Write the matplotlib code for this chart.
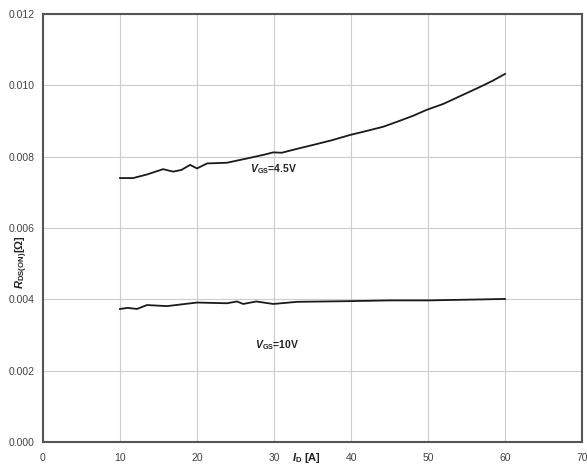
import matplotlib
matplotlib.use("Agg")
import matplotlib.pyplot as plt

plt.rcParams["font.family"] = ["Liberation Sans", "DejaVu Sans"]
plt.rcParams["mathtext.fontset"] = "custom"
plt.rcParams["mathtext.rm"] = "Liberation Sans"
plt.rcParams["mathtext.bf"] = "Liberation Sans:bold"
plt.rcParams["mathtext.it"] = "Liberation Sans:italic"
plt.rcParams["mathtext.bfit"] = "Liberation Sans:bold:italic"

# Data
id_45 = [10, 11.7, 13.5, 15.6, 16.9, 18.0, 19.1, 20.0, 21.3, 23.9, 26.5, 28.6, 29.9, 31.0,
         33.0, 35.1, 37.5, 39.9, 42.0, 44.2, 46.0, 48.0, 49.8, 52.0, 55.0, 57.0, 58.5, 60.0]
r_45 = [7.40, 7.40, 7.50, 7.65, 7.58, 7.63, 7.77, 7.67, 7.81, 7.83, 7.95, 8.05, 8.12, 8.11,
        8.22, 8.33, 8.46, 8.61, 8.72, 8.84, 8.98, 9.14, 9.31, 9.48, 9.78, 9.98, 10.14, 10.32]

id_10 = [10, 11.0, 12.2, 13.5, 16.1, 20.0, 23.9, 25.2, 26.0, 27.7, 29.9, 33.0, 40.0, 45.0,
         50.0, 55.0, 60.0]
r_10 = [3.73, 3.76, 3.73, 3.84, 3.81, 3.91, 3.89, 3.94, 3.87, 3.94, 3.87, 3.93, 3.95, 3.97,
        3.97, 3.99, 4.01]

x_ticks = [0, 10, 20, 30, 40, 50, 60, 70]
y_ticks = [0.000, 0.002, 0.004, 0.006, 0.008, 0.010, 0.012]

fig = plt.figure(figsize=(5.87, 4.66), dpi=100)
ax = fig.add_axes([43/587, 24/466, (582-43)/587, (442-14)/466])

ax.plot(id_45, [v/1000 for v in r_45], color="#1a1a1a", lw=1.3)
ax.plot(id_10, [v/1000 for v in r_10], color="#1a1a1a", lw=1.3)

ax.set_xlim(0, 70)
ax.set_ylim(0, 0.012)
ax.set_xticks(x_ticks)
ax.set_yticks(y_ticks)
ax.set_xticklabels([str(v) for v in x_ticks])
ax.set_yticklabels([f"{v:.3f}" for v in y_ticks])
ax.tick_params(length=0, labelsize=7.5, labelcolor="#444444")
ax.tick_params(axis="x", pad=8)
ax.tick_params(axis="y", pad=6)
ax.grid(True, color="#cccccc", lw=0.8)
ax.set_axisbelow(True)
for s in ax.spines.values():
    s.set_color("#555555")
    s.set_linewidth(1.5)

ax.text(26.9, 0.00766, r"$\bfit{V}_{\mathbf{GS}}$=4.5V", fontsize=7.5, fontweight="bold",
        color="#222222", va="center", ha="left")
ax.text(27.5, 0.00272, r"$\bfit{V}_{\mathbf{GS}}$=10V", fontsize=7.5, fontweight="bold",
        color="#222222", va="center", ha="left")

fig.text(22/587, 1 - 262/466, r"$\bfit{R}_{\mathbf{DS(ON)}}$[Ω]", rotation=90, fontsize=8,
         fontweight="bold", color="#222222", ha="center", va="center")
fig.text(306/587, 1 - 458/466, r"$\bfit{I}_{\mathbf{D}}$ [A]", fontsize=8,
         fontweight="bold", color="#222222", ha="center", va="center")

fig.savefig("out.png", dpi=100)
